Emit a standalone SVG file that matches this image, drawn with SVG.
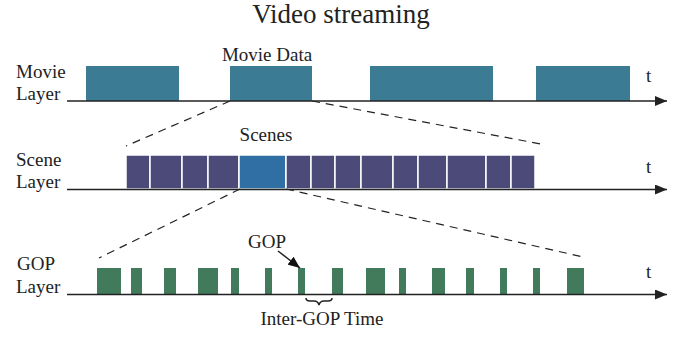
<svg xmlns="http://www.w3.org/2000/svg" width="685" height="337" viewBox="0 0 685 337">
<defs>
<style>
text{font-family:"Liberation Serif","Times New Roman",serif;fill:#222;}
.lbl{font-size:19px;}
.title{font-size:27px;}
.axis{stroke:#222;stroke-width:1.5;fill:none;}
.dash{stroke:#222;stroke-width:1.2;stroke-dasharray:8 6;fill:none;}
.movie{fill:#3b7b93;}
.scene{fill:#4b4a78;stroke:#fff;stroke-width:1.5;}
.scene-hl{fill:#2f6fa3;stroke:#fff;stroke-width:1.5;}
.gop{fill:#427a5c;}
</style>
<marker id="ah" markerWidth="12" markerHeight="10" refX="12" refY="5" orient="auto" markerUnits="userSpaceOnUse">
<path d="M0,0 L12,5 L0,10 z" fill="#222"/>
</marker>
<marker id="ah2" markerWidth="12" markerHeight="10" refX="12" refY="5" orient="auto" markerUnits="userSpaceOnUse">
<path d="M0,0 L12,5 L0,10 z" fill="#111"/>
</marker>
</defs>
<rect width="685" height="337" fill="#fff"/>
<text class="title" x="341" y="23" text-anchor="middle">Video streaming</text>

<g id="movie-layer">
<text class="lbl" x="16" y="78">Movie</text>
<text class="lbl" x="16" y="100">Layer</text>
<rect class="movie" x="86" y="66" width="93" height="35"/>
<rect class="movie" x="230" y="66" width="82" height="35"/>
<rect class="movie" x="370" y="66" width="123" height="35"/>
<rect class="movie" x="536" y="66" width="94" height="35"/>
<text class="lbl" x="267" y="61" text-anchor="middle">Movie Data</text>
<text class="lbl" x="646" y="82">t</text>
</g>

<g id="scene-layer">
<text class="lbl" x="16" y="166">Scene</text>
<text class="lbl" x="16" y="188">Layer</text>
<rect class="scene" x="126" y="155" width="24" height="34"/>
<rect class="scene" x="150" y="155" width="32" height="34"/>
<rect class="scene" x="182" y="155" width="26" height="34"/>
<rect class="scene" x="208" y="155" width="31" height="34"/>
<rect class="scene-hl" x="239" y="155" width="47" height="34"/>
<rect class="scene" x="286" y="155" width="25" height="34"/>
<rect class="scene" x="311" y="155" width="24" height="34"/>
<rect class="scene" x="335" y="155" width="26" height="34"/>
<rect class="scene" x="361" y="155" width="32" height="34"/>
<rect class="scene" x="393" y="155" width="25" height="34"/>
<rect class="scene" x="418" y="155" width="29" height="34"/>
<rect class="scene" x="447" y="155" width="39" height="34"/>
<rect class="scene" x="486" y="155" width="25" height="34"/>
<rect class="scene" x="511" y="155" width="24" height="34"/>
<text class="lbl" x="266" y="141" text-anchor="middle">Scenes</text>
<text class="lbl" x="646" y="173">t</text>
</g>

<g id="gop-layer">
<text class="lbl" x="17" y="270">GOP</text>
<text class="lbl" x="16" y="293">Layer</text>
<rect class="gop" x="97" y="268" width="24" height="26"/>
<rect class="gop" x="131" y="268" width="11" height="26"/>
<rect class="gop" x="164" y="268" width="12" height="26"/>
<rect class="gop" x="198" y="268" width="20" height="26"/>
<rect class="gop" x="231" y="268" width="8" height="26"/>
<rect class="gop" x="265" y="268" width="7" height="26"/>
<rect class="gop" x="298" y="268" width="7" height="26"/>
<rect class="gop" x="332" y="268" width="11" height="26"/>
<rect class="gop" x="366" y="268" width="19" height="26"/>
<rect class="gop" x="399" y="268" width="7" height="26"/>
<rect class="gop" x="432" y="268" width="13" height="26"/>
<rect class="gop" x="466" y="268" width="8" height="26"/>
<rect class="gop" x="500" y="268" width="7" height="26"/>
<rect class="gop" x="533" y="268" width="7" height="26"/>
<rect class="gop" x="567" y="268" width="17" height="26"/>
<text class="lbl" x="267" y="248" text-anchor="middle">GOP</text>
<text class="lbl" x="322" y="325" text-anchor="middle">Inter-GOP Time</text>
<text class="lbl" x="646" y="278">t</text>
</g>

<g id="connectors">
<line class="axis" x1="67" y1="101" x2="667" y2="101" marker-end="url(#ah)"/>
<line class="axis" x1="67" y1="189.5" x2="667" y2="189.5" marker-end="url(#ah)"/>
<line class="axis" x1="67" y1="294.5" x2="667" y2="294.5" marker-end="url(#ah)"/>
<line class="dash" x1="230" y1="101" x2="126" y2="146"/>
<line class="dash" x1="312" y1="101" x2="541" y2="144"/>
<line class="dash" x1="240" y1="189" x2="99" y2="258"/>
<line class="dash" x1="286" y1="189" x2="583" y2="257"/>
<line class="axis" x1="278" y1="251" x2="300" y2="268" stroke-width="2" marker-end="url(#ah2)"/>
<path class="axis" stroke-width="1.2" d="M306,298 q0,3 4,3 h4 q4,0 5,4 q1,-4 5,-4 h4 q4,0 4,-3"/>
</g>
</svg>
